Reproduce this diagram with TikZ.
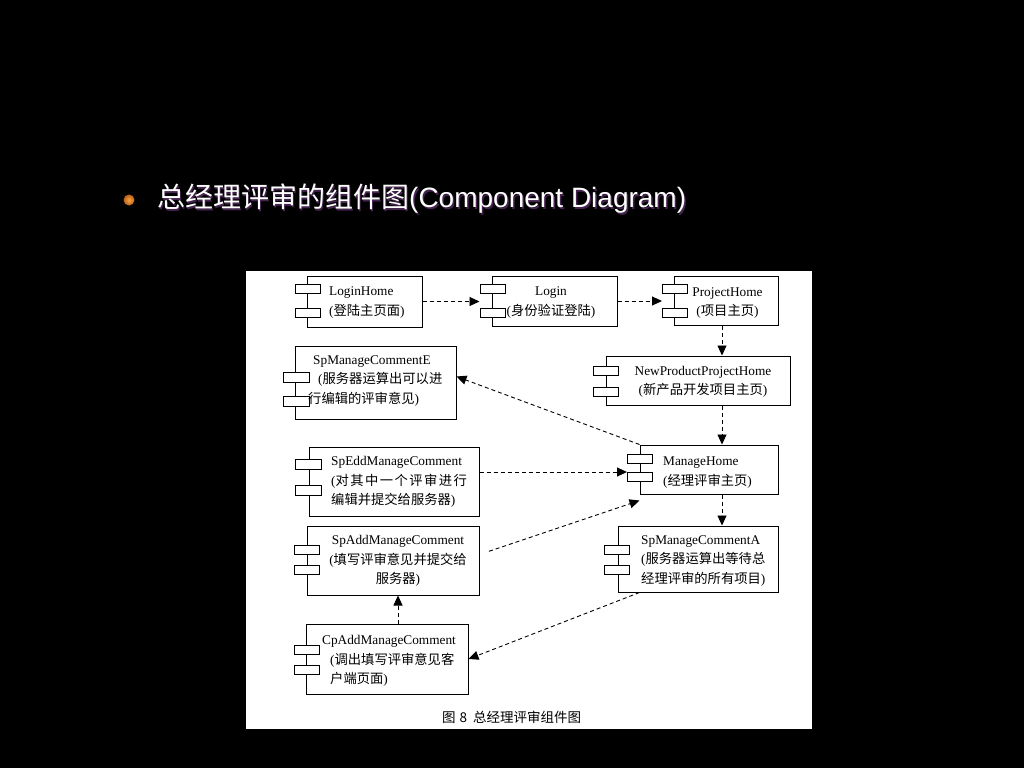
\documentclass[tikz,border=0pt]{standalone}
\usepackage{fontspec}
\setmainfont{Liberation Serif}
\newfontfamily\cjk{Noto Sans CJK SC}
\newfontfamily\arial{Liberation Sans}
\usetikzlibrary{arrows.meta,calc}

\begin{document}
\begin{tikzpicture}[x=1pt,y=-1pt,
 comp/.style={draw,fill=white,line width=1pt,inner sep=0pt},
 tab/.style={draw,fill=white,line width=1pt,inner sep=0pt,minimum width=25pt,minimum height=9pt},
 txt/.style={inner sep=0pt,font=\fontsize{13.3}{19.5}\selectfont},
 dep/.style={line width=0.9pt,dash pattern=on 4pt off 3pt,-{Triangle[length=10pt,width=9pt]}}]
 \fill[black](0,0) rectangle (1024,768);
 \useasboundingbox (0,0) rectangle (1024,768);
 \shade[inner color={rgb,255:red,245;green,165;blue,70},outer color={rgb,255:red,185;green,95;blue,20}] (129,200) circle (5.5);
 \node[anchor=west,inner sep=0pt,text={rgb,255:red,70;green,35;blue,80},font=\fontsize{28}{30}\selectfont] (titleshadow) at (158.5,200.5) {{\cjk 总经理评审的组件图}{\arial (Component Diagram)}};
 \node[anchor=west,inner sep=0pt,text=white,font=\fontsize{28}{30}\selectfont] (title) at (157,199) {{\cjk 总经理评审的组件图}{\arial (Component Diagram)}};
 \fill[white](246,271) rectangle (812,729);

 \node[comp,minimum width=115pt,minimum height=51pt] (loginhome) at (364.5,301.5) {};
 \node[comp,minimum width=125pt,minimum height=50pt] (login) at (554.5,301) {};
 \node[comp,minimum width=104pt,minimum height=49pt] (ph) at (726,301) {};
 \node[comp,minimum width=184pt,minimum height=49pt] (npph) at (698,380.5) {};
 \node[comp,minimum width=138pt,minimum height=49pt] (mh) at (709,469.5) {};
 \node[comp,minimum width=160pt,minimum height=66pt] (spa) at (698,559) {};
 \node[comp,minimum width=161pt,minimum height=73pt] (spe) at (375.5,382.5) {};
 \node[comp,minimum width=170pt,minimum height=69pt] (sed) at (394,481.5) {};
 \node[comp,minimum width=172pt,minimum height=69pt] (sad) at (393,560.5) {};
 \node[comp,minimum width=162pt,minimum height=70pt] (cad) at (387,659) {};

 \node[tab] (lh1) at (307.5,289) {};
 \node[tab] (lh2) at (307.5,312.5) {};
 \node[tab] (lg1) at (492.5,289) {};
 \node[tab] (lg2) at (492.5,312.5) {};
 \node[tab] (ph1) at (675,289) {};
 \node[tab] (ph2) at (675,312.5) {};
 \node[tab] (np1) at (605.5,371) {};
 \node[tab] (np2) at (605.5,392) {};
 \node[tab] (mh1) at (640,459) {};
 \node[tab] (mh2) at (640,477) {};
 \node[tab] (sa1) at (617,549.5) {};
 \node[tab] (sa2) at (617,569.5) {};
 \node[tab,minimum width=26pt,minimum height=10pt] (se1) at (296,377.5) {};
 \node[tab,minimum width=26pt,minimum height=10pt] (se2) at (296,401) {};
 \node[tab,minimum width=26pt,minimum height=10pt] (sd1) at (308,464) {};
 \node[tab,minimum width=26pt,minimum height=10pt] (sd2) at (308,490) {};
 \node[tab] (sb1) at (307,550) {};
 \node[tab] (sb2) at (307,569.5) {};
 \node[tab] (cp1) at (306.5,649.5) {};
 \node[tab] (cp2) at (306.5,669.5) {};

 \node[txt,anchor=west,align=left] (loginhometext) at (329,302.5) {LoginHome\\({\cjk 登陆主页面})};
 \node[txt,align=center] (logintext) at (551,302.5) {Login\\({\cjk 身份验证登陆})};
 \node[txt,align=center] (phtext) at (727.5,303) {ProjectHome\\({\cjk 项目主页})};
 \node[txt,align=center] (npphtext) at (703,382) {NewProductProjectHome\\({\cjk 新产品开发项目主页})};
 \node[txt,anchor=west,align=left] (mhtext) at (663,472.5) {ManageHome\\({\cjk 经理评审主页})};
 \node[txt,anchor=west,align=left] (spatext) at (641,561) {SpManageCommentA\\({\cjk 服务器运算出等待总}\\{\cjk 经理评审的所有项目})};
 \node[txt,anchor=west,align=left] (spetext) at (308,381) {\hspace*{5pt}SpManageCommentE\\\hspace*{10pt}({\cjk 服务器运算出可以进}\\{\cjk 行编辑的评审意见})};
 \node[txt,anchor=west,align=left] (sedtext) at (331,482) {SpEddManageComment\\({\cjk\addfontfeature{LetterSpace=11}对其中一个评审进行}\\{\cjk 编辑并提交给服务器})};
 \node[txt,align=center] (sadtext) at (398,561) {SpAddManageComment\\({\cjk 填写评审意见并提交给}\\{\cjk 服务器})};
 \node[txt,anchor=west,align=left] (cadtext) at (322,661) {CpAddManageComment\\\hspace*{8pt}({\cjk 调出填写评审意见客}\\\hspace*{8pt}{\cjk 户端页面})};
 \node[anchor=west,inner sep=0pt,font=\fontsize{13.5}{15}\selectfont\cjk] (caption) at (442,717) {图\hspace{4pt}8\hspace{6pt}总经理评审组件图};

 \coordinate (colr) at (722,0);
 \coordinate (coll) at (398,0);
 \draw[dep] (loginhome.east) -- (loginhome.east -| lg1.west);
 \draw[dep] (login.east) -- (login.east -| ph1.west);
 \draw[dep] (ph.south -| colr) -- (npph.north -| colr);
 \draw[dep] (npph.south -| colr) -- (mh.north -| colr);
 \draw[dep] (mh.south -| colr) -- (spa.north -| colr);
 \draw[dep] (mh.north west) -- ([yshift=6pt]spe.east);
 \draw[dep] (sed.east |- mh2.north west) -- (mh2.north west);
 \draw[dep,shorten <=10pt] ([yshift=6pt]sad.east) -- ([yshift=-6pt]mh.south west);
 \draw[dep] (cad.north -| coll) -- (sad.south -| coll);
 \draw[dep] ([xshift=22pt]spa.south west) -- (cad.east);
\end{tikzpicture}
\end{document}
